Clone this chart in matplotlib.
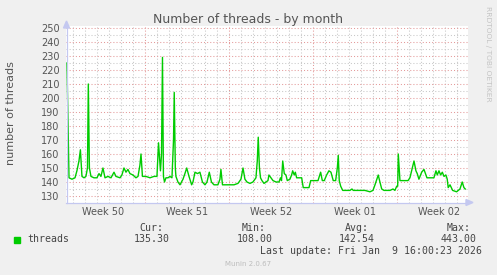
import numpy as np
import matplotlib.pyplot as plt
from matplotlib.patches import Polygon
from matplotlib.lines import Line2D

# time in days relative to Monday of week 51, thread counts
days = [-6.5, -6.33, -6.08, -5.83, -5.67, -5.5, -5.38, -5.25, -5.08, -4.92,
        -4.79, -4.72, -4.63, -4.5, -4.25, -4.0, -3.83, -3.67, -3.5, -3.33,
        -3.08, -2.83, -2.58, -2.42, -2.08, -1.92, -1.75, -1.58, -1.42, -1.25,
        -1.0, -0.75, -0.58, -0.42, -0.33, -0.21, 0.08, 0.42, 0.75, 1.0,
        1.13, 1.29, 1.38, 1.46, 1.54, 1.63, 1.75, 1.92, 2.08, 2.25,
        2.38, 2.44, 2.53, 2.58, 2.75, 2.92, 3.17, 3.33, 3.48, 3.67,
        3.89, 4.0, 4.17, 4.38, 4.58, 4.79, 5.0, 5.17, 5.36, 5.54,
        5.75, 6.08, 6.25, 6.33, 6.46, 6.75, 7.08, 7.42, 7.75, 8.0,
        8.17, 8.33, 8.5, 8.75, 9.0, 9.25, 9.36, 9.44, 9.54, 9.63,
        9.75, 9.92, 10.08, 10.25, 10.33, 10.5, 10.67, 10.92, 11.17, 11.29,
        11.38, 11.48, 11.61, 11.75, 11.86, 12.08, 12.22, 12.31, 12.44, 12.53,
        12.64, 12.83, 13.06, 13.19, 13.42, 13.67, 13.81, 14.08, 14.42, 14.64,
        14.78, 14.94, 15.14, 15.33, 15.5, 15.69, 15.89, 16.03, 16.11, 16.19,
        16.31, 16.48, 16.75, 17.08, 17.25, 17.36, 17.67, 17.92, 18.33, 18.75,
        19.0, 19.17, 19.44, 19.58, 19.73, 19.92, 20.17, 20.42, 20.67, 20.83,
        20.98, 21.06, 21.11, 21.25, 21.58, 21.92, 22.08, 22.22, 22.42, 22.58,
        22.69, 22.83, 23.06, 23.25, 23.5, 23.83, 24.08, 24.25, 24.36, 24.5,
        24.64, 24.78, 24.92, 25.08, 25.19, 25.27, 25.42, 25.64, 25.97, 26.25,
        26.44, 26.58, 26.69]
threads = [225, 143, 142, 143, 148, 155, 163, 144, 143, 144,
           150, 210, 150, 144, 143, 143, 146, 144, 150, 143,
           144, 143, 147, 144, 143, 145, 150, 147, 149, 146,
           145, 143, 144, 152, 160, 144, 144, 143, 144, 144,
           168, 148, 160, 229, 144, 140, 143, 143, 144, 143,
           170, 204, 150, 144, 140, 138, 142, 146, 150, 144,
           138, 140, 147, 146, 147, 140, 138, 140, 147, 140,
           138, 138, 142, 149, 138, 138, 138, 138, 139, 142,
           150, 142, 140, 139, 140, 143, 155, 172, 150, 143,
           141, 139, 140, 141, 145, 143, 141, 140, 140, 143,
           141, 155, 146, 145, 141, 142, 145, 148, 145, 147,
           143, 143, 143, 136, 136, 136, 141, 141, 141, 147,
           141, 141, 145, 148, 147, 141, 141, 150, 159, 141,
           137, 134, 134, 134, 135, 134, 134, 134, 134, 133,
           134, 138, 145, 140, 135, 134, 134, 134, 135, 134,
           137, 137, 160, 141, 141, 141, 143, 148, 155, 148,
           146, 142, 147, 149, 143, 143, 143, 148, 145, 148,
           145, 147, 144, 145, 142, 136, 138, 134, 133, 135,
           140, 136, 135]

week_pos = [-3.5, 3.5, 10.5, 17.5, 24.5]
week_labels = ["Week 50", "Week 51", "Week 52", "Week 01", "Week 02"]
y_ticks = list(range(130, 251, 10))

legend_cols = ["Cur:", "Min:", "Avg:", "Max:"]
legend_vals = ["135.30", "108.00", "142.54", "443.00"]

W, H = 497, 275
GREEN = "#00CC00"
TXT = "#555555"


def px(x, y):
    return x / W, 1 - y / H


fig = plt.figure(figsize=(W / 100, H / 100), dpi=100, facecolor="#F0F0F0")
ax = fig.add_axes([66 / W, (H - 203) / H, 402 / W, 177 / H])
ax.set_facecolor("white")
ax.set_xlim(-6.58, 26.92)
ax.set_ylim(125, 251.43)

# grid: gray minor, red major
for d in range(-6, 27):
    col = "#E49A9A" if d % 7 == 0 else "#C8C8C8"
    ax.axvline(d, color=col, lw=0.75, ls=(0, (1, 2)), zorder=1)
for v in range(130, 251, 5):
    col = "#E49A9A" if v % 10 == 0 else "#C8C8C8"
    ax.axhline(v, color=col, lw=0.75, ls=(0, (1, 2)), zorder=1)

ax.plot(days, threads, color=GREEN, lw=1.0, zorder=3)

ax.set_xticks(week_pos, week_labels)
ax.set_yticks(y_ticks)
ax.tick_params(axis="both", length=0, labelsize=7, labelcolor=TXT)
ax.tick_params(axis="x", pad=3)
ax.tick_params(axis="y", pad=4.5)
for s in ax.spines.values():
    s.set_visible(False)

# axis lines with arrows
axc = "#C4C8F0"
fig.add_artist(Line2D([66.5 / W, 66.5 / W], [px(0, 203)[1], px(0, 27)[1]],
                      color=axc, lw=0.9))
fig.add_artist(Line2D([66 / W, 467 / W], [px(0, 202.5)[1]] * 2, color=axc, lw=0.9))
fig.add_artist(Polygon([px(63.5, 28), px(69.5, 28), px(66.5, 21)], closed=True,
                       color=axc, transform=fig.transFigure))
fig.add_artist(Polygon([px(466, 199.5), px(466, 205.5), px(473, 202.5)], closed=True,
                       color=axc, transform=fig.transFigure))

# titles
fig.text(*px(248, 19), "Number of threads - by month", ha="center", va="center",
         fontsize=9, color=TXT)
fig.text(*px(11, 113), "number of threads", rotation=90, ha="center", va="center",
         fontsize=8, color=TXT)
fig.text(*px(488, 53.5), "RRDTOOL / TOBI OETIKER", rotation=270, ha="center",
         va="center", fontsize=5.4, color="#C4C4C4")

# legend
fig.add_artist(Polygon([px(14, 237), px(20, 237), px(20, 243), px(14, 243)],
                       closed=True, color=GREEN, transform=fig.transFigure))
mono = dict(family="DejaVu Sans Mono", fontsize=7.1, color="#444444", va="center")
fig.text(*px(27, 239.5), "threads", ha="left", **mono)
head_x = [163.5, 266, 368.5, 470.5]
val_x = [170, 273, 375, 477]
for hx, vx, h, v in zip(head_x, val_x, legend_cols, legend_vals):
    fig.text(*px(hx, 228), h, ha="right", **mono)
    fig.text(*px(vx, 239.5), v, ha="right", **mono)
fig.text(*px(482.5, 251.5), "Last update: Fri Jan  9 16:00:23 2026", ha="right", **mono)
fig.text(*px(248, 264.5), "Munin 2.0.67", ha="center", va="center", fontsize=5,
         color="#BDBDBD")

fig.savefig("out.png", dpi=100, facecolor=fig.get_facecolor())
